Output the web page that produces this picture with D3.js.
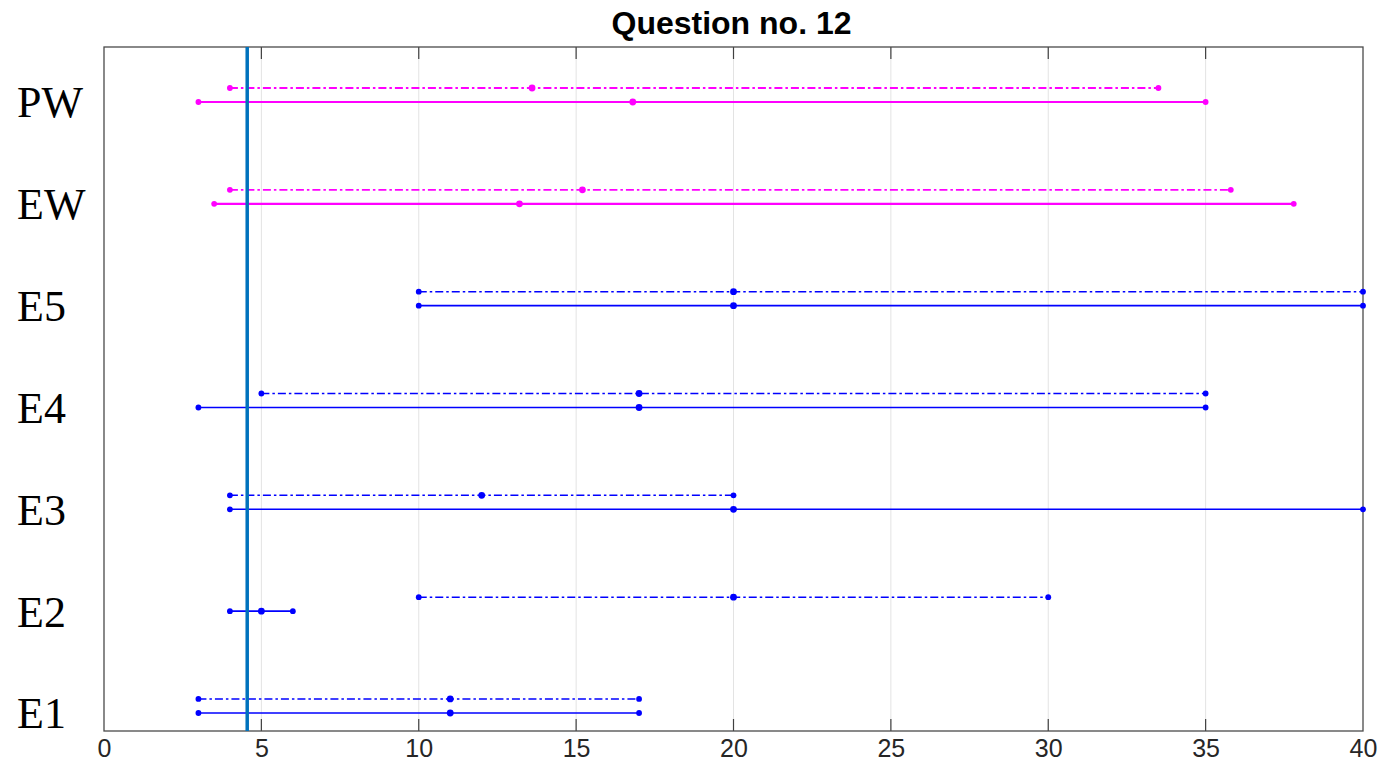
<!DOCTYPE html>
<html>
<head>
<meta charset="utf-8">
<script src="https://cdn.jsdelivr.net/npm/d3@7"></script>
<style>
  html, body { margin: 0; padding: 0; background: #fff; }
  svg { display: block; }
</style>
</head>
<body>
<svg id="chart" width="1384" height="777"></svg>
<script>
// ---- data ----
const categories = ["E1", "E2", "E3", "E4", "E5", "EW", "PW"];
const solidMin = [3, 4, 4, 3, 10, 3.5, 3];
const solidMid = [11, 5, 20, 17, 20, 13.2, 16.8];
const solidMax = [17, 6, 40, 35, 40, 37.8, 35];
const dashMin  = [3, 10, 4, 5, 10, 4, 4];
const dashMid  = [11, 20, 12, 17, 20, 15.2, 13.6];
const dashMax  = [17, 30, 20, 35, 40, 35.8, 33.5];
const groupOf  = ["E", "E", "E", "E", "E", "W", "W"];
const xTicks   = [0, 5, 10, 15, 20, 25, 30, 35, 40];
const threshold = 4.55;
const title = "Question no. 12";

// ---- layout ----
const pL = 104, pR = 1363, pT = 47, pB = 731;
const dashOffset = 0.1375;

const svg = d3.select("#chart");
const x = d3.scaleLinear().domain([0, 40]).range([pL, pR]);
const y = d3.scaleLinear().domain([0.823, 7.54]).range([pB, pT]);
const color = d3.scaleOrdinal().domain(["E", "W"]).range(["#0000FF", "#FF00FF"]);

// grid
svg.append("g").selectAll("line")
  .data(xTicks.filter(d => d > 0 && d < 40))
  .join("line")
  .attr("x1", d => x(d)).attr("x2", d => x(d))
  .attr("y1", pT).attr("y2", pB)
  .attr("stroke", "#e3e3e3").attr("stroke-width", 1);

// x axis bottom
const axB = svg.append("g").attr("transform", `translate(0,${pB})`)
  .call(d3.axisBottom(x).tickValues(xTicks).tickSize(0).tickPadding(8).tickFormat(d3.format("d")));
axB.select(".domain").remove();
axB.selectAll("text").attr("font-family", "Liberation Sans, Arial, sans-serif")
  .attr("font-size", 25).attr("fill", "#262626");

// inward tick marks (top and bottom)
const tickG = svg.append("g");
tickG.selectAll("line.tb").data(xTicks.slice(1, -1)).join("line")
  .attr("x1", d => x(d)).attr("x2", d => x(d))
  .attr("y1", pB).attr("y2", pB - 12)
  .attr("stroke", "#404040").attr("stroke-width", 1.2);
tickG.selectAll("line.tt").data(xTicks.slice(1, -1)).join("line")
  .attr("x1", d => x(d)).attr("x2", d => x(d))
  .attr("y1", pT).attr("y2", pT + 12)
  .attr("stroke", "#404040").attr("stroke-width", 1.2);

// y labels (left-aligned)
const axL = svg.append("g").attr("transform", `translate(${pL},0)`)
  .call(d3.axisLeft(y).tickValues(d3.range(1, 8)).tickSize(0)
    .tickFormat(d => categories[d - 1]));
axL.select(".domain").remove();
axL.selectAll("text")
  .attr("x", 17 - pL).attr("dy", "0.34em")
  .attr("text-anchor", "start")
  .attr("font-family", "Liberation Serif, 'Times New Roman', serif")
  .attr("font-size", 44).attr("fill", "#000");

// box
svg.append("rect").attr("x", pL).attr("y", pT)
  .attr("width", pR - pL).attr("height", pB - pT)
  .attr("fill", "none").attr("stroke", "#4a4a4a").attr("stroke-width", 1.3);

// data
const rows = categories.map((c, i) => ({
  cat: c, idx: i + 1, g: groupOf[i],
  s: [solidMin[i], solidMid[i], solidMax[i]],
  d: [dashMin[i], dashMid[i], dashMax[i]]
}));

const dataG = svg.append("g");
rows.forEach(r => {
  const col = color(r.g);
  const isW = r.g === "W";
  const yd = y(r.idx + dashOffset);
  dataG.append("line")
    .attr("x1", x(r.d[0])).attr("x2", x(r.d[2]))
    .attr("y1", yd).attr("y2", yd)
    .attr("stroke", col).attr("stroke-width", isW ? 1.8 : 1.5)
    .attr("stroke-dasharray", "8,3,2.5,3");
  const ys = y(r.idx);
  dataG.append("line")
    .attr("x1", x(r.s[0])).attr("x2", x(r.s[2]))
    .attr("y1", ys).attr("y2", ys)
    .attr("stroke", col).attr("stroke-width", isW ? 2.2 : 1.6);
  [[r.d, yd], [r.s, ys]].forEach(([vals, yy]) => {
    dataG.selectAll(null).data(vals).join("circle")
      .attr("cx", d => x(d)).attr("cy", yy)
      .attr("r", (d, k) => k === 1 ? 3.4 : 2.9)
      .attr("fill", col);
  });
});

// threshold line
svg.append("line")
  .attr("x1", x(threshold)).attr("x2", x(threshold))
  .attr("y1", pT).attr("y2", pB)
  .attr("stroke", "#0072BD").attr("stroke-width", 3.5);

// title
svg.append("text")
  .attr("x", (pL + pR) / 2 - 2).attr("y", 34)
  .attr("text-anchor", "middle")
  .attr("font-family", "Liberation Sans, Arial, sans-serif")
  .attr("font-weight", "bold").attr("font-size", 32)
  .attr("fill", "#000")
  .text(title);
</script>
</body>
</html>
